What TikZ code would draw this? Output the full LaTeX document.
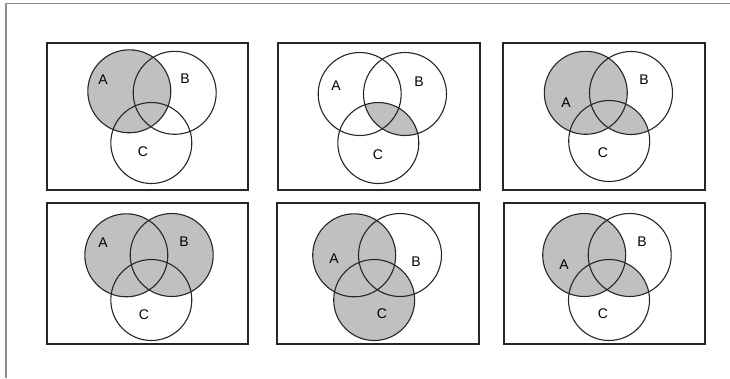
\documentclass[tikz,border=0pt]{standalone}
\usepackage{fontspec}
\setmainfont{Liberation Sans}
\definecolor{vgray}{RGB}{191,192,194}
\definecolor{frameline}{RGB}{140,140,140}
\begin{document}
\begin{tikzpicture}[x=1pt,y=-1pt,
  panel/.style={line width=2.8pt, draw=black!85},
  ring/.style={line width=1.1pt, draw=black!85},
  shade/.style={fill=vgray},
  lbl/.style={font=\fontsize{14}{16}\selectfont, inner sep=0pt}]
\useasboundingbox (0,0) rectangle (730,378);
% page frame, only the top and left edges show
\draw[frameline, line width=1.6pt] (6,378) -- (6,3.5) -- (730,3.5);

% circle centres
\coordinate (p1a) at (129.3,91.3);  \coordinate (p1b) at (174.7,92.8); \coordinate (p1c) at (151.3,143);
\coordinate (p2a) at (359.7,94);    \coordinate (p2b) at (405,94);     \coordinate (p2c) at (378.3,143);
\coordinate (p3a) at (585.8,92.8);  \coordinate (p3b) at (631,93);     \coordinate (p3c) at (609.2,141);
\coordinate (p4a) at (126.3,255.3); \coordinate (p4b) at (171.7,255);  \coordinate (p4c) at (151.3,300);
\coordinate (p5a) at (354.2,255.3); \coordinate (p5b) at (400,255);    \coordinate (p5c) at (374.2,300);
\coordinate (p6a) at (584.2,255);   \coordinate (p6b) at (629.7,255);  \coordinate (p6c) at (609,300);

% frames
\draw[panel] (47,43) rectangle (248,190);
\draw[panel] (278,43) rectangle (480,190);
\draw[panel] (503,43) rectangle (705,190);
\draw[panel] (47,203) rectangle (248,344);
\draw[panel] (277,203) rectangle (479,344);
\draw[panel] (504,203) rectangle (705,344);

% shaded regions
\fill[shade] (p1a) circle (41.5);
\begin{scope}
  \clip (p2b) circle (41.5);
  \fill[shade] (p2c) circle (40.5);
\end{scope}
\fill[shade] (p3a) circle (41.5);
\begin{scope}
  \clip (p3b) circle (41.5);
  \fill[shade] (p3c) circle (40.5);
\end{scope}
\fill[shade] (p4a) circle (41.5) (p4b) circle (41.5);
\fill[shade] (p5a) circle (41.5) (p5c) circle (40.5);
\fill[shade] (p6a) circle (41.5);
\begin{scope}
  \clip (p6b) circle (41.5);
  \fill[shade] (p6c) circle (40.5);
\end{scope}

% outlines
\foreach \p in {1,...,6} {
  \draw[ring] (p\p a) circle (41.5);
  \draw[ring] (p\p b) circle (41.5);
  \draw[ring] (p\p c) circle (40.5);
}

% labels
\node[lbl] (l1a) at (103,80) {A};  \node[lbl] (l1b) at (185,79) {B};  \node[lbl] (l1c) at (143,152) {C};
\node[lbl] (l2a) at (336,86) {A};  \node[lbl] (l2b) at (419,82) {B};  \node[lbl] (l2c) at (378,155) {C};
\node[lbl] (l3a) at (566,103) {A}; \node[lbl] (l3b) at (644,80) {B};  \node[lbl] (l3c) at (603,153) {C};
\node[lbl] (l4a) at (103,243) {A}; \node[lbl] (l4b) at (184,242) {B}; \node[lbl] (l4c) at (144,315) {C};
\node[lbl] (l5a) at (334,259) {A}; \node[lbl] (l5b) at (416,262) {B}; \node[lbl] (l5c) at (382,314) {C};
\node[lbl] (l6a) at (564,265) {A}; \node[lbl] (l6b) at (642,242) {B}; \node[lbl] (l6c) at (603,314) {C};
\end{tikzpicture}
\end{document}
